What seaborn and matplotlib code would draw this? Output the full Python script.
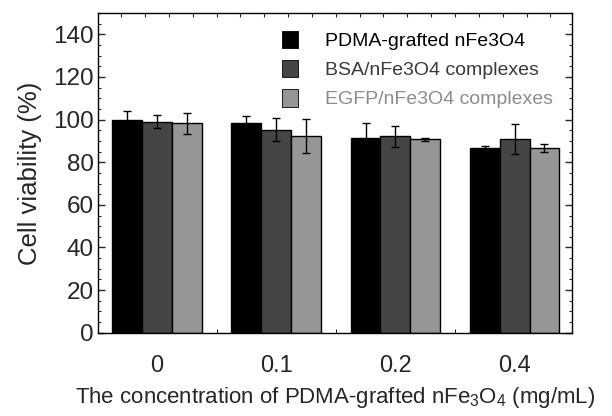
import numpy as np
import pandas as pd
import matplotlib
matplotlib.use("Agg")
import matplotlib.pyplot as plt
import seaborn as sns
from matplotlib.ticker import MultipleLocator, FixedLocator
from matplotlib.patches import Patch

# === data ===
concentrations = ["0", "0.1", "0.2", "0.4"]
groups = ["PDMA-grafted nFe3O4", "BSA/nFe3O4 complexes", "EGFP/nFe3O4 complexes"]
pdma_mean = [100.0, 98.2, 91.5, 86.8]
pdma_err = [4.0, 3.3, 7.0, 0.8]
bsa_mean = [99.0, 95.2, 92.2, 90.7]
bsa_err = [3.2, 5.5, 5.0, 7.0]
egfp_mean = [98.2, 92.2, 90.7, 86.8]
egfp_err = [5.0, 8.0, 0.6, 1.8]

colors = ["#000000", "#454545", "#969696"]
text_colors = ["#000000", "#3a3a3a", "#8c8c8c"]

means = [pdma_mean, bsa_mean, egfp_mean]
errs = [pdma_err, bsa_err, egfp_err]

rows = []
for g, m in zip(groups, means):
    for c, v in zip(concentrations, m):
        rows.append({"conc": c, "group": g, "viability": v})
df = pd.DataFrame(rows)

sns.set_style("ticks")
plt.rcParams["font.family"] = ["Liberation Sans", "DejaVu Sans"]
plt.rcParams["mathtext.fontset"] = "custom"
plt.rcParams["mathtext.rm"] = "Liberation Sans"
plt.rcParams["mathtext.it"] = "Liberation Sans"

fig = plt.figure(figsize=(6.12, 4.16), dpi=100)
ax = fig.add_axes([0.160, 0.200, 0.775, 0.769])

sns.barplot(data=df, x="conc", y="viability", hue="group", order=concentrations,
            hue_order=groups, palette=colors, width=0.75, errorbar=None,
            edgecolor="black", linewidth=1.0, saturation=1, ax=ax, legend=False)

# error bars, one container per series
for cont, e in zip(ax.containers, errs):
    xs = [b.get_x() + b.get_width() / 2 for b in cont]
    ys = [b.get_height() for b in cont]
    ax.errorbar(xs, ys, yerr=e, fmt="none", ecolor="black", elinewidth=1.0,
                capsize=3, capthick=1.0, zorder=5)

ax.set_xlim(-0.495, 3.483)
ax.set_ylim(0, 150)

# axes look: box with inward ticks on all sides
for s in ax.spines.values():
    s.set_visible(True)
    s.set_linewidth(1.0)
    s.set_color("black")

ax.yaxis.set_major_locator(FixedLocator([0, 20, 40, 60, 80, 100, 120, 140]))
ax.yaxis.set_minor_locator(MultipleLocator(5))
ax.tick_params(axis="y", which="major", direction="in", length=5, width=1,
               left=True, right=True, labelsize=17.5, pad=3)
ax.tick_params(axis="y", which="minor", direction="in", length=2.5, width=0.8,
               left=True, right=True)

ax.set_xticks(range(len(concentrations)))
ax.set_xticklabels(concentrations)
ax.xaxis.set_minor_locator(FixedLocator(np.arange(-0.3, 3.45, 0.2)))
ax.tick_params(axis="x", which="major", length=0, labelsize=17, pad=16)
ax.tick_params(axis="x", which="minor", direction="in", length=3, width=0.8,
               bottom=True, top=True)

ax.set_xlabel("The concentration of PDMA-grafted nFe$_3$O$_4$ (mg/mL)",
              fontsize=16, labelpad=6)
ax.set_ylabel("Cell viability (%)", fontsize=18.5, labelpad=8)

handles = [Patch(facecolor=c, edgecolor="black", linewidth=0.6) for c in colors]
leg = ax.legend(handles, groups, loc="upper right", bbox_to_anchor=(0.985, 0.98),
                frameon=False, fontsize=14, handlelength=0.85, handleheight=1.0,
                handletextpad=1.4, labelspacing=0.5, borderaxespad=0.2)
for t, c in zip(leg.get_texts(), text_colors):
    t.set_color(c)

fig.savefig("out.png", dpi=100)
